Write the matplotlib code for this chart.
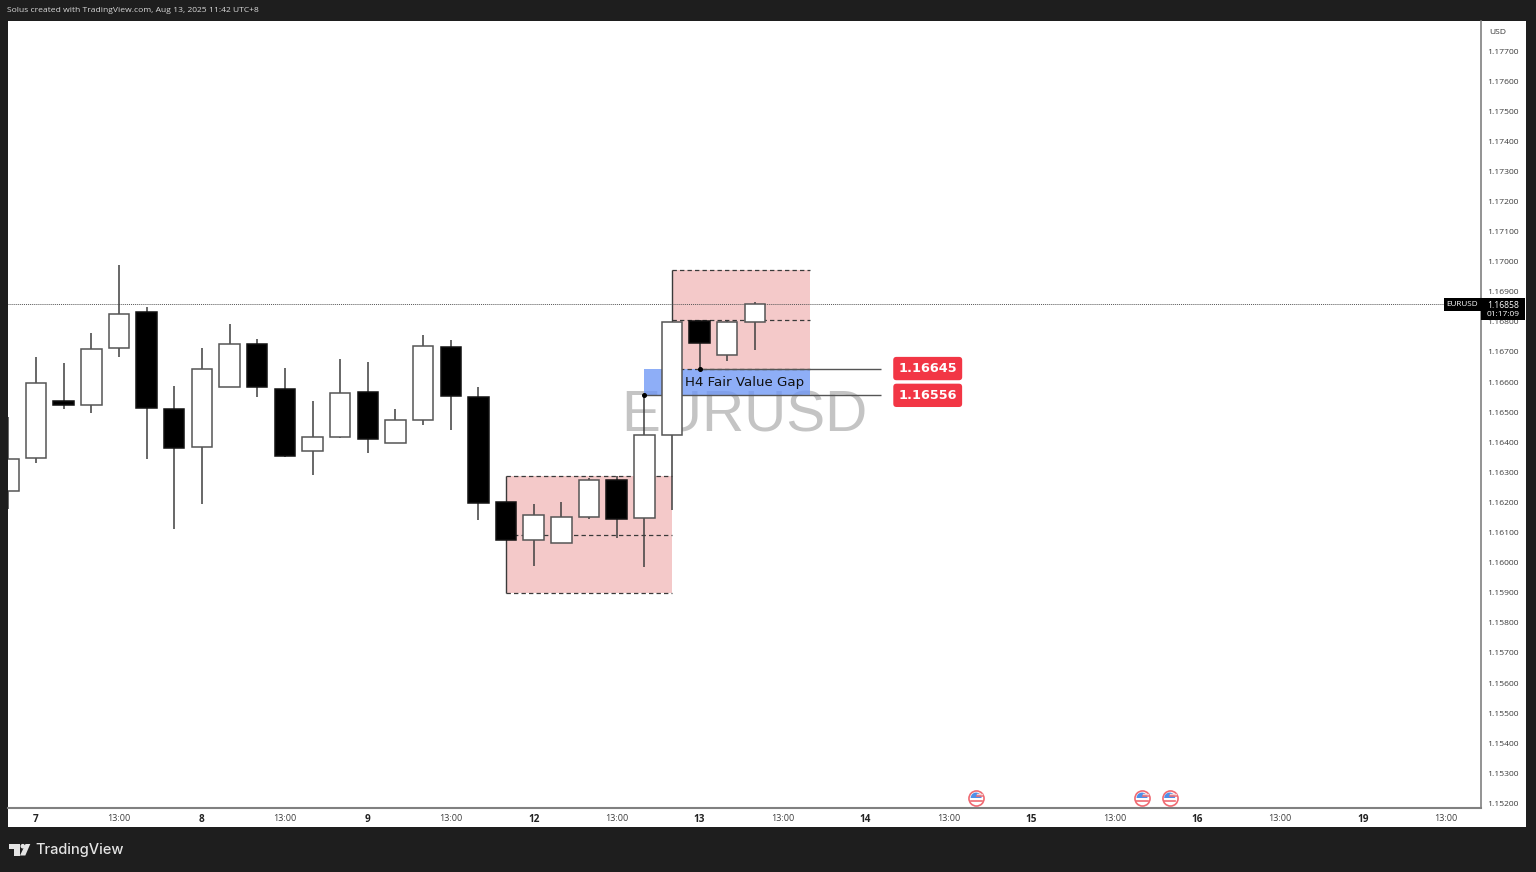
import matplotlib
matplotlib.use("Agg")
import matplotlib.pyplot as plt
from matplotlib.patches import Rectangle, Circle, Polygon
from matplotlib.markers import MarkerStyle
from matplotlib.transforms import Affine2D, blended_transform_factory

# ---- data (index 0 = the candle at the "7" tick) ----
candle_idx = list(range(-1, 27))
tops = [1.16346, 1.16598, 1.16538, 1.16711, 1.16827, 1.16832, 1.16511, 1.16644, 1.16726, 1.16726,
        1.16578, 1.16417, 1.16564, 1.16567, 1.16475, 1.16721, 1.16718, 1.16550, 1.16203, 1.16158,
        1.16151, 1.16275, 1.16275, 1.16424, 1.16799, 1.16802, 1.16799, 1.16858]
bottoms = [1.16237, 1.16347, 1.16524, 1.16523, 1.16713, 1.16513, 1.16380, 1.16383, 1.16584, 1.16584,
           1.16356, 1.16370, 1.16419, 1.16410, 1.16397, 1.16475, 1.16554, 1.16198, 1.16075, 1.16075,
           1.16064, 1.16151, 1.16145, 1.16148, 1.16424, 1.16730, 1.16689, 1.16801]
highs = [1.16485, 1.16684, 1.16663, 1.16764, 1.16989, 1.16849, 1.16587, 1.16714, 1.16794, 1.16742,
         1.16647, 1.16538, 1.16678, 1.16668, 1.16510, 1.16755, 1.16739, 1.16583, 1.16203, 1.16195,
         1.16201, 1.16280, 1.16288, 1.16558, 1.16799, 1.16806, 1.16806, 1.16865]
lows = [1.16178, 1.16332, 1.16511, 1.16496, 1.16682, 1.16344, 1.16113, 1.16196, 1.16584, 1.16551,
        1.16352, 1.16290, 1.16413, 1.16365, 1.16397, 1.16456, 1.16440, 1.16141, 1.16075, 1.15989,
        1.16064, 1.16144, 1.16083, 1.15985, 1.16175, 1.16644, 1.16671, 1.16706]
bearish = [0, 0, 1, 0, 0, 1, 1, 0, 0, 1, 1, 0, 0, 1, 0, 0, 1, 1, 1, 0, 0, 0, 1, 0, 0, 1, 0, 0]

zone_starts = [17, 23]
zone_ends = [23, 28]
zone_tops = [1.16288, 1.16972]
zone_mids = [1.16092, 1.16806]
zone_bottoms = [1.15899, 1.16645]

fvg_start, fvg_end = 22, 28
level_values = [1.16645, 1.16556]
level_starts = [24, 22]
level_end = 30.56
level_label_x = 32.25
last_price = 1.16858

y_ticks = [1.152, 1.153, 1.154, 1.155, 1.156, 1.157, 1.158, 1.159, 1.160, 1.161, 1.162, 1.163, 1.164,
           1.165, 1.166, 1.167, 1.168, 1.169, 1.170, 1.171, 1.172, 1.173, 1.174, 1.175, 1.176, 1.177]
y_labels = [f"{v:.5f}" for v in y_ticks]
x_ticks = [0, 3, 6, 9, 12, 15, 18, 21, 24, 27, 30, 33, 36, 39, 42, 45, 48, 51]
x_labels = ["7", "13:00", "8", "13:00", "9", "13:00", "12", "13:00", "13", "13:00", "14", "13:00",
            "15", "13:00", "16", "13:00", "19", "13:00"]
event_idx = [34, 40, 41]

W, H = 1536, 872
fig = plt.figure(figsize=(W / 100, H / 100), dpi=100, facecolor="#1e1e1e")
px = Affine2D().scale(1 / W, -1 / H).translate(0, 1) + fig.transFigure
FONT = "Open Sans"

fig.add_artist(Rectangle((8, 21), 1518, 806, transform=px, fc="white", ec="none", zorder=-5))

ax = fig.add_axes([8 / W, 1 - 808 / H, (1481 - 8) / W, (808 - 21) / H])
ax.set_facecolor("white")
ax.set_xlim((8 - 36) / 27.65, (1481 - 36) / 27.65)
ax.set_ylim(1.15185, 1.177997)
for s in ("top", "left"):
    ax.spines[s].set_visible(False)
ax.spines["right"].set_color("#808080")
ax.spines["bottom"].set_color("#808080")
ax.spines["right"].set_linewidth(1.2)
ax.spines["bottom"].set_linewidth(1.5)
ax.yaxis.tick_right()
ax.set_yticks(y_ticks, y_labels, fontsize=6.1, color="#3c3c3c", family=FONT)
ax.set_xticks(x_ticks, x_labels, fontsize=6.5, color="#3c3c3c", family=FONT)
ax.tick_params(length=0)
ax.tick_params(axis="y", pad=4.8)
ax.tick_params(axis="x", pad=4.4)
for i, lab in enumerate(ax.get_xticklabels()):
    if i % 2 == 0:
        lab.set_fontweight("bold")
        lab.set_color("#222222")
        lab.set_fontsize(7.2)

# watermark
ax.text((744 - 36) / 27.65, 1.16485, "EURUSD", fontsize=42, family="Liberation Sans",
        color="#c4c4c4", ha="center", va="center", zorder=1)

# zones
for s, e, t, m, b in zip(zone_starts, zone_ends, zone_tops, zone_mids, zone_bottoms):
    ax.add_patch(Rectangle((s, b), e - s, t - b, fc="#f0b5b5", alpha=0.72, ec="none", zorder=1.2))
    for v in (t, m, b):
        ax.hlines(v, s, e, color="#3a3a3a", lw=0.9, linestyles=(0, (3.5, 2.5)), zorder=1.6)
    ax.vlines(s, b, t, color="#3a3a3a", lw=1.0, zorder=1.6)

# fair value gap
ax.add_patch(Rectangle((fvg_start, level_values[1]), fvg_end - fvg_start, level_values[0] - level_values[1],
                       fc="#6f97f5", alpha=0.78, ec="none", zorder=1.4))
ax.text((685 - 36) / 27.65, sum(level_values) / 2 - 0.00003, "H4 Fair Value Gap", fontsize=9.6, color="#111111",
        ha="left", va="center", zorder=6, family="DejaVu Sans")

# levels
for v, s in zip(level_values, level_starts):
    ax.hlines(v, s, level_end, color="#555555", lw=1.0, zorder=1.7)
    ax.plot([s], [v], "o", ms=2.6, color="black", zorder=5)
    ax.text(level_label_x, v, f"{v:.5f}", fontsize=9.3, fontweight="bold", color="white", ha="center", va="center",
            family="DejaVu Sans", zorder=6,
            bbox=dict(boxstyle="round,pad=0.4,rounding_size=0.25", fc="#f23645", ec="none"))

# price line
ax.hlines(last_price, ax.get_xlim()[0], (1444 - 36) / 27.65, color="#555555", lw=0.7,
          linestyles=(0, (1, 1)), zorder=1.8)

# candles
for i, t, b, h, l, bear in zip(candle_idx, tops, bottoms, highs, lows, bearish):
    ax.vlines(i, l, h, color="#3f3f3f", lw=1.1, zorder=3)
    ax.bar(i, t - b, width=0.74, bottom=b, color="black" if bear else "white",
           edgecolor="#111111" if bear else "#555555", linewidth=1.1, zorder=4)

# event flags
flag_tf = blended_transform_factory(ax.transData, px)
for x in event_idx:
    ax.scatter([x], [798], s=118, transform=flag_tf, c="white", edgecolors="#ef6a72", linewidths=1.2,
               clip_on=False, zorder=7)
    ax.scatter([x], [798], s=62, transform=flag_tf, marker=MarkerStyle("o", fillstyle="top"), c="#4f8fe8",
               edgecolors="none", clip_on=False, zorder=8)
    ax.plot([x - 0.2, x + 0.2], [800.5, 800.5], transform=flag_tf, color="#ef6a72", lw=1.2, zorder=8)
    ax.plot([x + 0.02, x + 0.22], [796, 796], transform=flag_tf, color="#ef6a72", lw=1.2, zorder=9)
    ax.plot([x + 0.02, x + 0.22], [793.5, 793.5], transform=flag_tf, color="#f5d0d0", lw=1.0, zorder=9)

# price scale chrome
fig.add_artist(Rectangle((1444, 298), 37, 13, transform=px, fc="black", ec="none", zorder=20))
fig.add_artist(Rectangle((1481, 298), 44, 22, transform=px, fc="black", ec="none", zorder=20))
fig.text(1462.5 / W, 1 - 305 / H, "EURUSD", color="white", fontsize=5.9, ha="center", va="center", family=FONT, zorder=21)
fig.text(1503 / W, 1 - 305.3 / H, f"{last_price:.5f}", color="white", fontsize=6.2, ha="center", va="center", family=FONT, zorder=21)
fig.text(1503 / W, 1 - 314.5 / H, "01:17:09", color="white", fontsize=6.0, ha="center", va="center", family=FONT, zorder=21)
fig.text(1498 / W, 1 - 33 / H, "USD", color="#333333", fontsize=6.1, ha="center", va="center", family=FONT, zorder=21)

# header and footer
fig.text(7 / W, 1 - 11 / H, "Solus created with TradingView.com, Aug 13, 2025 11:42 UTC+8", color="#d8d8d8",
         fontsize=6.1, ha="left", va="center", family=FONT)
fig.text(35 / W, 1 - 850 / H, "TradingView", color="#e4e4e4", fontsize=10.5, fontweight="medium",
         ha="left", va="center", family="Inter")
logo = "#e4e4e4"
fig.add_artist(Polygon([(8.5, 844), (20, 844), (20, 855.5), (14, 855.5), (14, 848.5), (8.5, 848.5)],
                       transform=px, fc=logo, ec="none", zorder=5))
fig.add_artist(Circle((22.8, 846.2), 2.3, transform=px, fc=logo, ec="none", zorder=5))
fig.add_artist(Polygon([(25.5, 844), (30.3, 844), (25.3, 855.5), (20, 855.5)],
                       transform=px, fc=logo, ec="none", zorder=5))

fig.savefig("out.png", dpi=100, facecolor=fig.get_facecolor())
